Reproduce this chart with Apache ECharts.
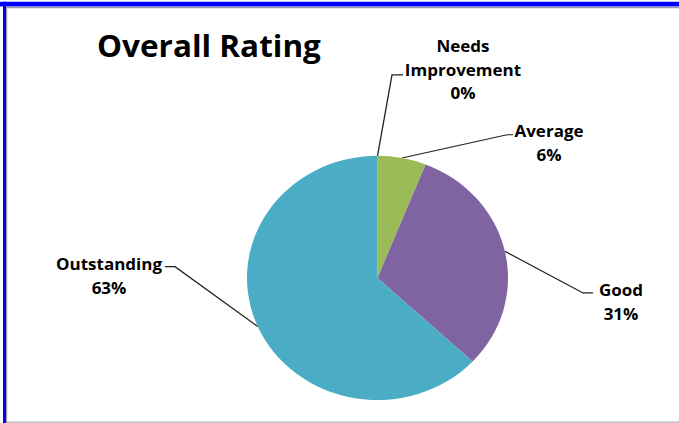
<!DOCTYPE html>
<html>
<head>
<meta charset="utf-8">
<script src="https://cdn.jsdelivr.net/npm/echarts@6/dist/echarts.min.js"></script>
<style>
  html, body { margin: 0; padding: 0; background: #fff; overflow: hidden; }
  #wrap { width: 679px; height: 423px; overflow: hidden; position: relative; }
  /* the chart is laid out on a taller canvas and squeezed vertically,
     giving the slightly flattened pie */
  #chart { width: 679px; height: 452px; transform: scaleY(0.9358); transform-origin: 0 0; }
</style>
</head>
<body>
<div id="wrap"><div id="chart"></div></div>
<script>
const titleText = 'Overall Rating';
const categories = ['Needs Improvement', 'Average', 'Good', 'Outstanding'];
const values = [0, 6, 31, 63];
const colors = ['#F79646', '#9BBB59', '#8064A2', '#4BACC6'];

// label placement per category: text centre and the bend of its leader line
const labelSpots = {
  'Needs Improvement': { x: 463, y: 74, bend: [[392, 80], [403, 80]] },
  'Average':           { x: 549, y: 153, bend: [[507, 144], [513, 144]] },
  'Good':              { x: 621, y: 322, bend: [[583, 313], [593, 313]] },
  'Outstanding':       { x: 109, y: 295, bend: [[175, 285], [165, 285]] }
};

const font = '"Open Sans", Lato, sans-serif';
const chart = echarts.init(document.getElementById('chart'), null, { renderer: 'svg' });

chart.setOption({
  backgroundColor: '#fff',
  animation: false,
  title: {
    text: titleText,
    left: 92,
    top: 27,
    textStyle: { fontFamily: font, fontWeight: 'bold', fontSize: 31.5, color: '#000' }
  },
  graphic: [
    // frame: blue rule along top and left, grey inner rules
    { type: 'rect', shape: { x: 0, y: 2, width: 679, height: 5 }, style: { fill: '#0000FF' }, silent: true },
    { type: 'rect', shape: { x: 6, y: 7.5, width: 673, height: 1.2 }, style: { fill: '#A0A0A0' }, silent: true },
    { type: 'rect', shape: { x: 3, y: 2, width: 3, height: 460 }, style: { fill: '#0000FF' }, silent: true },
    { type: 'rect', shape: { x: 6, y: 7.5, width: 1.2, height: 460 }, style: { fill: '#A0A0A0' }, silent: true },
    { type: 'rect', shape: { x: 6, y: 450.3, width: 673, height: 1.4 }, style: { fill: '#B0B0B0' }, silent: true }
  ],
  series: [{
    type: 'pie',
    center: [377.5, 297],
    radius: 130.5,
    startAngle: 90,
    clockwise: true,
    avoidLabelOverlap: false,
    percentPrecision: 0,
    data: categories.map((c, i) => ({ name: c, value: values[i], itemStyle: { color: colors[i] } })),
    itemStyle: { borderWidth: 0 },
    label: {
      show: true,
      position: 'outside',
      formatter: p => p.name.replace(' ', '\n') + '\n' + p.percent + '%',
      fontFamily: font,
      fontWeight: 'bold',
      fontSize: 17,
      lineHeight: 25.6,
      color: '#000',
      align: 'center'
    },
    labelLine: {
      show: true,
      smooth: false,
      length: 20,
      length2: 10,
      lineStyle: { color: '#222', width: 1.3 }
    },
    labelLayout: function (params) {
      const name = categories[params.dataIndex];
      const spot = labelSpots[name];
      const start = params.labelLinePoints ? params.labelLinePoints[0] : null;
      const out = { x: spot.x, y: spot.y, align: 'center', verticalAlign: 'middle' };
      if (start) out.labelLinePoints = [start].concat(spot.bend);
      return out;
    },
    emphasis: { disabled: true }
  }]
});
</script>
</body>
</html>
